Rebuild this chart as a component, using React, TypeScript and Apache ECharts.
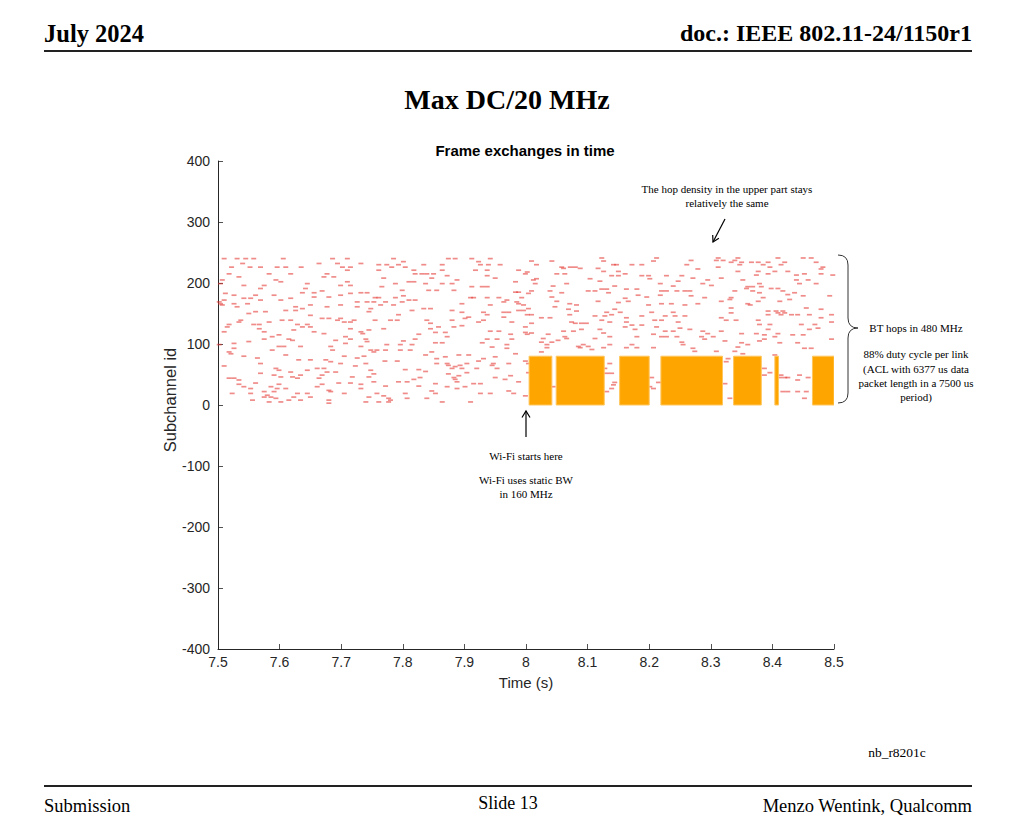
import React, { useEffect, useRef } from "react";
import * as echarts from "echarts";

// ---------- data ----------
const xTickMin = 7.5;
const xTickMax = 8.5;
const xTickStep = 0.1;
const yTickMin = -400;
const yTickMax = 400;
const yTickStep = 100;

// Wi-Fi frame exchanges (static 160 MHz, subchannel 0..80)
const wifiStart = [8.005, 8.049, 8.152, 8.219, 8.337, 8.404, 8.465];
const wifiEnd = [8.042, 8.127, 8.2, 8.319, 8.382, 8.41, 8.5];
const wifiTop = 80;

// BT hops: [time (s), subchannel id]
const btHops: [number, number][] = [
  [7.51,240],[7.531,240],[7.545,240],[7.558,240],[7.606,240],[7.686,240],[7.71,240],
  [7.732,232],[7.664,232],[7.694,232],[7.54,232],
  [7.522,226],[7.552,226],[7.569,226],[7.596,226],[7.61,226],[7.635,226],[7.702,226],[7.715,226],
  [7.71,221],
  [7.518,215],[7.583,215],[7.618,215],[7.677,215],
  [7.534,210],[7.672,210],[7.688,210],
  [7.507,205],[7.594,205],
  [7.602,202],[7.71,202],
  [7.504,199],[7.645,199],
  [7.542,196],[7.575,196],[7.699,196],[7.715,196],
  [7.569,191],[7.642,191],
  [7.669,187],
  [7.637,184],[7.656,184],[7.732,184],[7.742,184],
  [7.512,183],[7.715,183],
  [7.526,180],[7.561,180],[7.591,180],[7.699,180],
  [7.656,177],[7.68,177],
  [7.542,175],[7.553,175],[7.618,175],
  [7.51,172],[7.602,172],[7.569,172],
  [7.502,169],[7.726,169],[7.742,169],
  [7.504,166],[7.526,166],[7.548,166],
  [7.507,164],[7.65,164],[7.699,164],
  [7.531,161],[7.626,161],[7.677,161],[7.726,161],
  [7.637,158],[7.748,158],
  [7.61,155],[7.626,155],
  [7.561,153],[7.577,153],[7.745,153],
  [7.55,150],
  [7.65,147],
  [7.669,142],[7.68,142],[7.699,142],
  [7.537,139],[7.604,139],[7.618,139],[7.694,139],[7.721,139],
  [7.534,136],[7.583,136],[7.705,136],[7.715,136],
  [7.518,132],[7.558,132],[7.567,132],[7.629,132],[7.645,132],
  [7.515,128],[7.637,128],[7.65,128],
  [7.567,125],[7.715,125],
  [7.623,123],[7.745,123],
  [7.51,120],[7.575,120],[7.656,120],[7.732,120],
  [7.672,117],[7.735,117],
  [7.599,115],
  [7.588,112],[7.707,112],
  [7.575,108],[7.615,108],[7.715,108],[7.74,108],
  [7.621,106],[7.691,106],
  [7.55,104],[7.742,104],
  [7.526,101],[7.707,101],
  [7.502,99],
  [7.599,96],[7.607,96],[7.634,96],[7.683,96],[7.732,96],
  [7.526,93],
  [7.588,90],[7.686,90],[7.748,90],
  [7.518,87],
  [7.521,84],
  [7.61,82],
  [7.542,80],[7.705,80],[7.737,80],
  [7.564,77],[7.726,77],
  [7.631,74],[7.65,74],[7.675,74],
  [7.683,71],
  [7.569,68],[7.699,68],[7.74,68],
  [7.51,64],[7.723,64],
  [7.594,60],[7.661,60],[7.672,60],
  [7.599,57],[7.645,57],[7.748,57],
  [7.618,54],[7.677,54],[7.691,54],
  [7.569,52],
  [7.591,49],[7.634,49],[7.669,49],
  [7.602,46],[7.621,46],[7.718,46],[7.745,46],
  [7.518,44],[7.526,44],[7.629,44],[7.664,44],
  [7.534,41],
  [7.561,36],[7.696,36],[7.715,36],
  [7.534,34],[7.599,34],[7.669,34],[7.732,34],
  [7.542,30],[7.586,30],[7.661,30],
  [7.553,27],[7.596,27],[7.61,27],[7.732,27],
  [7.68,24],
  [7.575,22],[7.591,22],[7.683,22],
  [7.523,19],[7.553,19],[7.629,19],[7.645,19],[7.705,19],
  [7.58,16],
  [7.575,13],[7.586,13],[7.623,13],[7.65,13],[7.745,13],
  [7.594,11],
  [7.556,8],[7.615,8],[7.634,8],[7.68,8],
  [7.583,5],[7.602,5],[7.74,5],
  [7.68,3],
  // 7.75 .. 8.0
  [7.785,240],[7.874,240],[7.885,240],[7.912,240],[7.942,240],
  [7.801,235],[7.923,235],
  [7.761,230],[7.774,230],[7.793,230],[7.834,230],[7.864,230],[7.926,230],[7.939,230],[7.958,230],
  [7.782,226],[7.804,226],
  [7.761,221],[7.818,221],[7.864,221],[7.918,221],[7.937,221],[7.988,221],
  [8.002,218],
  [7.82,215],[7.831,215],[7.839,215],[7.85,215],[7.999,215],
  [7.872,212],[7.937,212],
  [7.769,208],[7.847,208],[7.95,208],
  [7.888,205],
  [7.81,202],[7.818,202],[7.983,202],
  [7.788,199],[7.837,199],[7.864,199],[7.88,199],
  [7.766,194],[7.912,194],[7.929,194],[7.937,194],
  [7.799,188],[7.842,188],[7.855,188],[7.883,188],
  [7.983,185],[7.988,185],
  [8.004,183],
  [7.801,179],
  [7.755,176],[7.761,176],[7.788,176],[7.91,176],[7.915,176],[7.937,176],[7.956,176],[7.993,176],
  [7.81,172],[7.82,172],[7.969,172],
  [7.753,169],[7.772,169],[7.799,169],[7.964,169],[7.985,169],
  [7.896,166],[7.988,166],
  [7.764,164],[7.785,164],[7.942,164],[7.996,164],
  [7.834,158],[7.845,158],[8.004,158],
  [7.815,155],[7.88,155],[7.988,155],[7.996,155],
  [7.896,152],[7.931,152],[7.964,152],[7.972,152],
  [7.793,148],[7.937,148],[8.002,148],
  [7.907,144],[7.964,144],
  [7.901,142],
  [7.755,139],[7.78,139],[7.791,139],[7.839,139],[7.88,139],[7.931,139],
  [7.923,136],[7.977,136],
  [7.845,134],
  [7.896,130],
  [7.858,128],[7.883,128],[7.999,128],
  [7.769,125],[7.845,125],
  [7.942,121],[7.956,121],
  [7.853,119],[7.869,119],[7.999,119],
  [7.826,116],[7.975,116],[8.002,116],
  [7.872,112],
  [7.82,108],[7.937,108],[7.953,108],[7.977,108],
  [7.801,105],
  [7.853,102],[7.864,102],[7.929,102],
  [7.774,99],[7.796,99],[7.815,99],[7.969,99],
  [7.945,95],
  [7.969,93],
  [7.758,90],[7.772,90],[7.796,90],[7.812,90],
  [7.753,87],[7.847,87],
  [7.983,84],
  [7.837,82],[7.891,82],[7.907,82],
  [7.869,79],[7.95,79],
  [7.855,76],[7.931,76],
  [7.771,72],[7.791,72],[7.923,72],[7.999,72],
  [7.855,68],[7.872,68],[7.904,68],[7.947,68],[7.972,68],[8.004,68],
  [7.874,65],[7.893,65],[7.945,65],
  [7.885,63],
  [7.88,60],[7.896,60],[7.92,60],[7.953,60],
  [7.804,58],[7.826,58],
  [7.837,55],
  [7.904,53],[8.004,53],
  [7.753,51],[7.874,51],
  [7.891,48],[7.975,48],
  [7.828,45],[7.883,45],[7.95,45],
  [7.818,42],[7.885,42],[7.966,42],
  [7.753,38],[7.793,38],[7.807,38],[7.888,38],[7.988,38],
  [7.853,35],[7.915,35],[7.926,35],
  [7.772,31],[7.826,31],
  [7.872,30],[7.901,30],
  [7.888,27],
  [7.847,23],[7.972,23],
  [7.758,19],[7.804,19],[7.853,19],[7.926,19],[7.942,19],[7.98,19],
  [7.769,15],[7.999,15],
  [7.777,11],[7.807,11],[7.839,11],
  [7.78,8],
  [7.761,5],[7.777,5],[7.864,5],[7.91,5],
  // 8.0 .. 8.26
  [8.123,241],[8.212,241],
  [8.009,236],[8.042,236],[8.126,236],[8.207,236],
  [8.017,230],[8.142,230],[8.147,230],[8.172,230],[8.188,230],[8.261,230],
  [8.058,226],[8.072,226],[8.08,226],
  [8.061,224],[8.088,224],[8.117,224],
  [8.126,219],[8.15,219],
  [8.05,215],[8.063,215],[8.161,215],
  [8.139,212],[8.15,212],[8.188,212],[8.199,212],[8.228,212],[8.253,212],
  [8.017,207],[8.104,207],[8.201,207],
  [8.012,205],
  [8.12,203],[8.247,203],
  [8.015,199],[8.066,199],[8.218,199],
  [8.044,195],[8.144,195],[8.239,195],
  [8.123,190],[8.131,190],[8.163,190],[8.18,190],
  [8.009,187],[8.039,187],[8.101,187],[8.112,187],[8.22,187],[8.228,187],[8.245,187],[8.258,187],
  [8.058,184],[8.134,184],
  [8.182,180],[8.218,180],
  [8.042,177],[8.196,177],
  [8.161,175],
  [8.05,170],[8.117,170],[8.166,170],
  [8.15,168],
  [8.071,166],[8.22,166],[8.236,166],
  [8.082,164],[8.199,164],[8.258,164],
  [8.047,161],
  [8.069,157],[8.144,157],
  [8.082,154],
  [8.131,152],[8.153,152],[8.204,152],[8.239,152],
  [8.009,148],[8.071,148],[8.139,148],
  [8.112,146],[8.128,146],[8.188,146],[8.226,146],[8.242,146],[8.258,146],
  [8.025,143],[8.039,143],[8.163,143],
  [8.123,139],[8.209,139],[8.22,139],
  [8.074,136],[8.136,136],[8.163,136],[8.247,136],
  [8.009,134],[8.08,134],[8.09,134],[8.098,134],
  [8.172,131],[8.188,131],
  [8.161,128],[8.212,128],
  [8.25,126],
  [8.09,124],[8.12,124],[8.177,124],
  [8.061,121],[8.077,121],[8.226,121],[8.239,121],
  [8.009,118],[8.126,118],
  [8.036,116],[8.207,116],
  [8.063,112],[8.136,112],[8.18,112],[8.22,112],[8.228,112],[8.245,112],
  [8.028,109],[8.066,109],[8.112,109],
  [8.052,106],
  [8.025,103],[8.042,103],[8.253,103],
  [8.034,99],[8.093,99],[8.136,99],[8.172,99],[8.255,99],
  [8.085,96],[8.101,96],
  [8.034,94],[8.088,94],[8.126,94],[8.163,94],[8.18,94],[8.207,94],
  [8.107,91],
  [8.025,87],
  [8.136,68],
  [8.128,60],
  [8.131,52],[8.139,52],
  [8.204,45],
  [8.144,37],[8.215,37],
  [8.142,33],
  [8.044,30],[8.201,30],
  [8.139,27],[8.207,27],
  [8.131,22],
  // 8.26 .. 8.5
  [8.312,241],[8.344,241],[8.409,241],[8.45,241],[8.463,241],
  [8.268,237],[8.309,237],[8.32,237],[8.339,237],
  [8.333,234],[8.35,234],[8.366,234],[8.377,234],[8.393,234],[8.42,234],[8.471,234],
  [8.347,230],[8.385,230],[8.414,230],
  [8.312,226],[8.396,226],[8.482,226],
  [8.279,223],[8.479,223],
  [8.344,219],[8.377,219],[8.404,219],[8.425,219],
  [8.393,215],[8.452,215],[8.479,215],
  [8.374,213],[8.439,213],[8.498,213],
  [8.271,208],[8.317,208],
  [8.295,205],[8.352,205],[8.439,205],[8.458,205],
  [8.287,199],[8.379,199],[8.444,199],[8.471,199],
  [8.301,196],
  [8.36,194],[8.368,194],[8.382,194],
  [8.358,191],[8.398,191],[8.409,191],
  [8.266,187],[8.339,187],[8.368,187],[8.417,187],
  [8.379,184],[8.436,184],
  [8.425,181],
  [8.268,179],[8.45,179],[8.493,179],
  [8.29,176],[8.333,176],[8.385,176],
  [8.331,173],[8.428,173],
  [8.317,170],[8.377,170],[8.412,170],
  [8.279,166],[8.36,166],
  [8.364,164],
  [8.333,159],[8.455,159],
  [8.479,157],
  [8.393,154],[8.406,154],[8.417,154],
  [8.333,151],[8.409,151],[8.42,151],
  [8.393,148],[8.414,148],[8.431,148],[8.441,148],[8.46,148],[8.496,148],
  [8.317,143],[8.479,143],
  [8.325,139],[8.341,139],[8.377,139],
  [8.496,136],
  [8.379,132],[8.396,132],[8.447,132],[8.469,132],
  [8.474,126],
  [8.266,124],[8.393,124],[8.46,124],
  [8.287,121],[8.317,121],
  [8.295,117],[8.35,117],[8.374,117],[8.409,117],
  [8.387,115],[8.433,115],[8.45,115],
  [8.285,112],[8.304,112],[8.404,112],
  [8.29,108],[8.387,108],[8.496,108],
  [8.323,105],[8.379,105],
  [8.35,102],[8.412,102],[8.441,102],
  [8.36,99],
  [8.344,95],
  [8.271,93],[8.452,93],[8.463,93],
  [8.274,88],[8.309,88],[8.339,88],
  [8.352,84],
  [8.404,82],
  [8.328,76],
  [8.325,71],
  [8.387,60],
  [8.396,53],
  [8.387,49],[8.414,49],[8.444,49],
  [8.412,45],[8.42,45],[8.425,45],[8.458,45],
  [8.441,41],
  [8.323,35],
  [8.417,22],[8.425,22],[8.441,22],[8.455,22],
  [8.331,11],[8.452,11],
];

const fmtX = (v: number) => String(Number(v.toFixed(1)));

export default function App() {
  const ref = useRef<HTMLDivElement>(null);

  useEffect(() => {
    if (!ref.current) return;
    const chart = echarts.init(ref.current, null, { renderer: "svg" });
    const serif = "'Liberation Serif', 'Times New Roman', serif";
    const sans = "'Liberation Sans', Arial, Helvetica, sans-serif";
    const axisColor = "#262626";

    const wifiData = wifiStart.map((s, i) => [s, wifiEnd[i], wifiTop]);

    const txt = (
      text: string,
      x: number,
      y: number,
      size: number,
      opts: { weight?: string; align?: string; family?: string; fill?: string; rotation?: number } = {}
    ) => ({
      type: "text",
      x,
      y,
      rotation: opts.rotation || 0,
      silent: true,
      style: {
        text,
        fontSize: size,
        fontFamily: opts.family || serif,
        fontWeight: opts.weight || "normal",
        fill: opts.fill || "#000",
        align: opts.align || "center",
        verticalAlign: "middle",
        textAlign: opts.align || "center",
        textVerticalAlign: "middle",
      },
    });

    const ln = (x1: number, y1: number, x2: number, y2: number, w = 1.2, c = "#000") => ({
      type: "line",
      silent: true,
      shape: { x1, y1, x2, y2 },
      style: { stroke: c, lineWidth: w },
    });

    const bz = (x1: number, y1: number, cx: number, cy: number, x2: number, y2: number) => ({
      type: "bezierCurve",
      silent: true,
      shape: { x1, y1, cpx1: cx, cpy1: cy, x2, y2 },
      style: { stroke: "#333", lineWidth: 1, fill: "none" },
    });

    chart.setOption({
      animation: false,
      backgroundColor: "#ffffff",
      grid: { left: 218, top: 161, width: 616, height: 488, containLabel: false },
      xAxis: {
        type: "value",
        min: xTickMin,
        max: xTickMax,
        interval: xTickStep,
        name: "Time (s)",
        nameLocation: "middle",
        nameGap: 26,
        nameTextStyle: { fontFamily: sans, fontSize: 15, color: axisColor },
        axisLine: { show: true, onZero: false, lineStyle: { color: axisColor, width: 1 } },
        axisTick: { show: true, inside: true, length: 5, lineStyle: { color: axisColor, width: 0.8 } },
        axisLabel: { color: axisColor, fontFamily: sans, fontSize: 14, margin: 6, formatter: fmtX },
        splitLine: { show: false },
      },
      yAxis: {
        type: "value",
        min: yTickMin,
        max: yTickMax,
        interval: yTickStep,
        axisLine: { show: true, onZero: false, lineStyle: { color: axisColor, width: 1 } },
        axisTick: { show: true, inside: true, length: 5, lineStyle: { color: axisColor, width: 0.8 } },
        axisLabel: { color: axisColor, fontFamily: sans, fontSize: 14, margin: 8 },
        splitLine: { show: false },
      },
      series: [
        {
          type: "scatter",
          name: "BT hops",
          data: btHops,
          symbol: "rect",
          symbolSize: [5, 1.7],
          itemStyle: { color: "rgba(228, 56, 50, 0.72)" },
          silent: true,
          z: 2,
        },
        {
          type: "custom",
          name: "Wi-Fi",
          data: wifiData,
          z: 3,
          silent: true,
          clip: true,
          renderItem: (_params: any, api: any) => {
            const p0 = api.coord([api.value(0), api.value(2)]);
            const p1 = api.coord([api.value(1), 0]);
            return {
              type: "rect",
              shape: { x: p0[0], y: p0[1], width: p1[0] - p0[0], height: p1[1] - p0[1] },
              style: { fill: "#FFA500", stroke: "#FFC65E", lineWidth: 1 },
            };
          },
        },
      ],
      graphic: [
        // header
        txt("July 2024", 44, 33, 24.5, { weight: "bold", align: "left" }),
        txt("doc.: IEEE 802.11-24/1150r1", 972, 33, 24, { weight: "bold", align: "right" }),
        ln(44, 51, 972, 51, 2, "#222"),
        txt("Max DC/20 MHz", 507, 99, 28, { weight: "bold" }),
        txt("Frame exchanges in time", 525, 150, 15, { weight: "bold", family: sans }),
        // y axis title
        txt("Subchannel id", 170, 400, 16.5, { family: sans, fill: axisColor, rotation: Math.PI / 2 }),
        // top annotation
        txt("The hop density in the upper part stays", 727, 189, 11),
        txt("relatively the same", 727, 203, 11),
        ln(725, 219, 713, 242),
        { type: "polyline", silent: true, shape: { points: [[718.9, 238.2], [713, 242], [712.7, 235]] }, style: { stroke: "#000", lineWidth: 1.2, fill: "none" } },
        // brace
        bz(838, 255, 848, 255, 848, 265),
        ln(848, 265, 848, 318, 1, "#333"),
        bz(848, 318, 848, 328, 858, 328),
        bz(858, 328, 848, 328, 848, 338),
        ln(848, 338, 848, 393, 1, "#333"),
        bz(848, 393, 848, 403, 838, 403),
        txt("BT hops in 480 MHz", 916, 328, 11),
        txt("88% duty cycle per link", 916, 354, 11),
        txt("(ACL with 6377 us data", 916, 369, 11),
        txt("packet length in a 7500 us", 916, 383, 11),
        txt("period)", 916, 397, 11),
        // Wi-Fi start
        ln(526, 437, 526, 411),
        { type: "polyline", silent: true, shape: { points: [[522, 417.5], [526, 411], [530, 417.5]] }, style: { stroke: "#000", lineWidth: 1.2, fill: "none" } },
        txt("Wi-Fi starts here", 526, 456, 11),
        txt("Wi-Fi uses static BW", 526, 480, 11),
        txt("in 160 MHz", 526, 494, 11),
        // footer
        txt("nb_r8201c", 897, 752, 13.5),
        ln(44, 786, 972, 786, 2, "#222"),
        txt("Submission", 44, 806, 18.5, { align: "left" }),
        txt("Slide 13", 508, 803, 18),
        txt("Menzo Wentink, Qualcomm", 972, 806, 18.5, { align: "right" }),
      ],
    });

    return () => chart.dispose();
  }, []);

  return (
    <div
      ref={ref}
      style={{ position: "absolute", left: 0, top: 0, width: 1024, height: 832, background: "#fff" }}
    />
  );
}
